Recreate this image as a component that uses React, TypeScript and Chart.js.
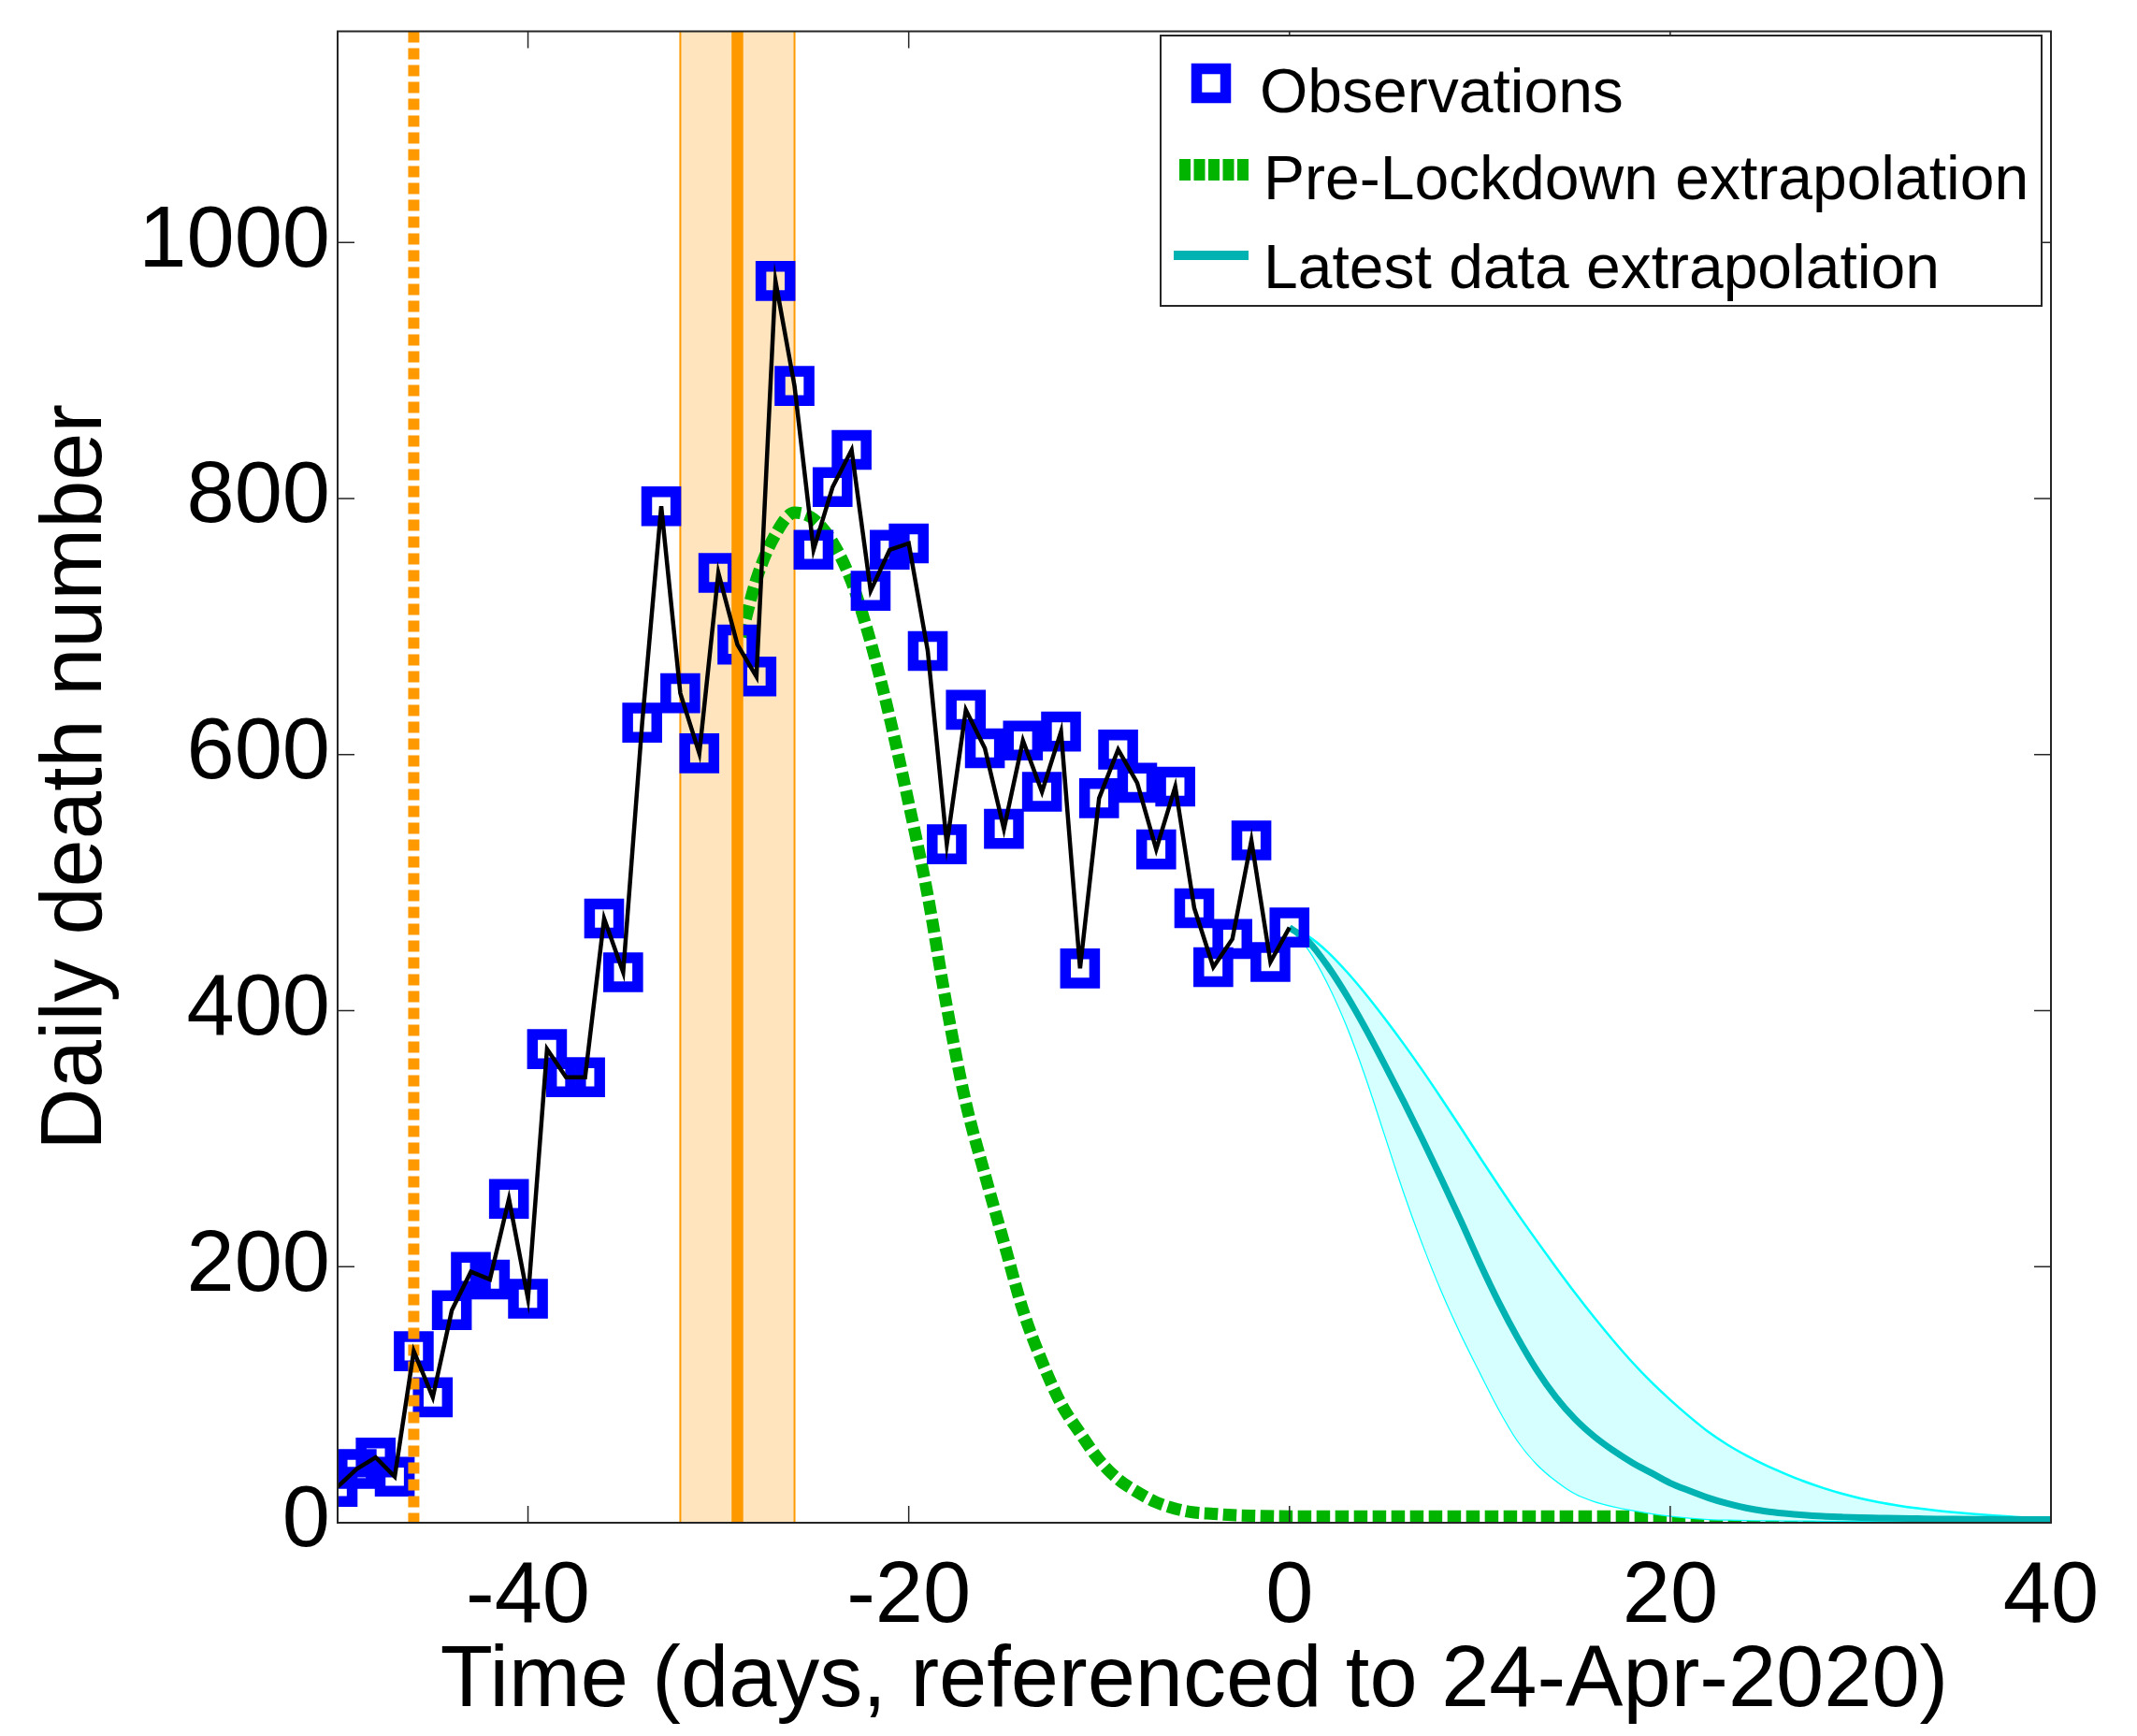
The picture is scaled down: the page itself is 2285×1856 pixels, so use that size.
import React, { useEffect, useRef } from 'react';
import { Chart, registerables } from 'chart.js';

Chart.register(...registerables);

const FONT = '"Liberation Sans", Arial, Helvetica, sans-serif';

// Axis ranges and ticks
const X_MIN = -50;
const X_MAX = 40;
const Y_MIN = 0;
const Y_MAX = 1165;
const X_TICKS = [-40, -20, 0, 20, 40];
const Y_TICKS = [0, 200, 400, 600, 800, 1000];

// Observations (days relative to 24-Apr-2020, daily deaths)
const OBS_DAYS = [
  -50, -49, -48, -47, -46, -45, -44, -43, -42, -41, -40, -39, -38, -37, -36, -35, -34,
  -33, -32, -31, -30, -29, -28, -27, -26, -25, -24, -23, -22, -21, -20, -19, -18, -17,
  -16, -15, -14, -13, -12, -11, -10, -9, -8, -7, -6, -5, -4, -3, -2, -1, 0,
];
const OBS_DEATHS = [
  28, 42, 51, 36, 134, 98, 166, 196, 190, 253, 175, 370, 348, 348, 472, 430, 625,
  794, 648, 601, 742, 686, 661, 970, 888, 760, 809, 838, 728, 760, 765, 681, 530, 635,
  605, 542, 611, 571, 618, 433, 566, 604, 578, 526, 575, 480, 434, 456, 533, 438, 465,
];

// Pre-lockdown extrapolation
const PRE_DAYS = [
  -28.8, -28, -27, -26, -25, -24, -23, -22, -21, -20, -19, -18, -17, -16, -15, -14, -13,
  -12, -11, -10, -9, -8, -7, -6, -5, -4, -3, -2, 0, 5, 10, 15, 20, 25, 31,
];
const PRE_VALUES = [
  692, 737, 772, 789, 784, 766, 735, 688, 629, 562, 490, 403, 328, 272, 219, 166, 126,
  93, 70, 49, 34, 24, 16, 11, 8, 7, 6, 5.5, 5, 5, 5, 5, 5, 5, 5,
];

// Latest data extrapolation (central, upper and lower bounds)
const EXT_DAYS = [
  0, 1, 2, 3, 4, 5, 6, 7, 8, 9, 10, 11, 12, 13, 14, 15, 16, 17, 18, 19, 20,
  21, 22, 23, 24, 25, 26, 27, 28, 29, 30, 31, 32, 33, 34, 35, 36, 37, 38, 39, 40,
];
const EXT_MAIN = [
  465, 454, 435, 412, 386, 358, 329, 299, 268, 236, 203, 172, 144, 119, 98, 81, 67.5, 56.5, 47, 39, 31,
  25, 19.5, 15, 11.5, 9, 7.3, 6, 5.1, 4.5, 4, 3.7, 3.4, 3.2, 3, 2.9, 2.8, 2.7, 2.6, 2.5, 2.5,
];
const EXT_UPPER = [
  465, 458, 446, 430.5, 413, 394, 374, 353, 331, 308.5, 285.5, 263, 241, 220, 199.5, 179.5, 160.5, 142.5, 125.5, 110, 96,
  83, 71, 61, 52.5, 45, 38.5, 32.5, 27.3, 22.8, 19, 15.9, 13.4, 11.3, 9.5, 8, 6.7, 5.6, 4.7, 3.9, 3.3,
];
const EXT_LOWER = [
  465, 448, 422, 389, 349, 304, 259, 218, 181, 148, 118, 89, 64, 46, 33, 23, 17, 13, 10, 7.5, 5.5,
  4, 3, 2.5, 2.2, 2, 1.9, 1.8, 1.7, 1.6, 1.5, 1.5, 1.5, 1.5, 1.5, 1.5, 1.5, 1.5, 1.5, 1.5, 1.5,
];

// Event markers
const FIRST_MARK_DAY = -46;
const LOCKDOWN_DAY = -29;
const LOCKDOWN_START = -32;
const LOCKDOWN_END = -26;

const LEGEND_LABELS = ['Observations', 'Pre-Lockdown extrapolation', 'Latest data extrapolation'];

const BLUE = '#0000ff';
const GREEN = '#00b400';
const TEAL = '#00b2b2';
const CYAN = '#00ffff';
const CYAN_FILL = '#d6ffff';
const ORANGE = '#ff9900';
const PEACH = '#ffe4bd';
const FRAME = '#262626';

const TICK_LEN = 18;

const pts = (xs: number[], ys: number[]) => xs.map((x, i) => ({ x, y: ys[i] }));
const vline = (x: number) => [
  { x, y: Y_MAX },
  { x, y: Y_MIN },
];

const framePlugin = {
  id: 'frame',
  afterDatasetsDraw(chart: any) {
    const { ctx, chartArea: a, scales } = chart;
    const xs = scales.x;
    const ys = scales.y;
    ctx.save();
    ctx.strokeStyle = FRAME;
    ctx.lineWidth = 1.5;
    ctx.beginPath();
    X_TICKS.forEach((v) => {
      const p = xs.getPixelForValue(v);
      ctx.moveTo(p, a.bottom);
      ctx.lineTo(p, a.bottom - TICK_LEN);
      ctx.moveTo(p, a.top);
      ctx.lineTo(p, a.top + TICK_LEN);
    });
    Y_TICKS.forEach((v) => {
      const p = ys.getPixelForValue(v);
      ctx.moveTo(a.left, p);
      ctx.lineTo(a.left + TICK_LEN, p);
      ctx.moveTo(a.right, p);
      ctx.lineTo(a.right - TICK_LEN, p);
    });
    ctx.stroke();
    ctx.lineWidth = 2;
    ctx.strokeRect(a.left, a.top, a.right - a.left, a.bottom - a.top);
    ctx.restore();
  },
};

const legendPlugin = {
  id: 'boxLegend',
  afterDraw(chart: any) {
    const { ctx } = chart;
    const bx = 1241;
    const by = 38;
    const bw = 942;
    const bh = 289;
    ctx.save();
    ctx.fillStyle = '#ffffff';
    ctx.fillRect(bx, by, bw, bh);
    ctx.strokeStyle = FRAME;
    ctx.lineWidth = 2;
    ctx.strokeRect(bx, by, bw, bh);

    // Observations marker
    ctx.strokeStyle = BLUE;
    ctx.lineWidth = 11.5;
    ctx.strokeRect(1295 - 15.5, 89 - 15.5, 31, 31);

    // Pre-lockdown dashes
    ctx.fillStyle = GREEN;
    for (let i = 0; i < 5; i++) {
      ctx.fillRect(1261 + i * 15.5, 170, 12, 23);
    }

    // Latest data line
    ctx.strokeStyle = TEAL;
    ctx.lineWidth = 10;
    ctx.beginPath();
    ctx.moveTo(1255, 273);
    ctx.lineTo(1335, 273);
    ctx.stroke();

    ctx.fillStyle = '#000000';
    ctx.font = `66px ${FONT}`;
    ctx.textAlign = 'left';
    ctx.textBaseline = 'alphabetic';
    ctx.fillText(LEGEND_LABELS[0], 1347, 120);
    ctx.fillText(LEGEND_LABELS[1], 1351, 213);
    ctx.fillText(LEGEND_LABELS[2], 1351, 308);
    ctx.restore();
  },
};

function buildConfig(): any {
  const lineBase = {
    pointRadius: 0,
    pointHoverRadius: 0,
    fill: false,
    clip: 0,
  };
  return {
    type: 'line',
    data: {
      datasets: [
        {
          ...lineBase,
          label: 'obs-line',
          data: pts(OBS_DAYS, OBS_DEATHS),
          borderColor: '#000000',
          borderWidth: 4.5,
          borderJoinStyle: 'miter',
          tension: 0,
          order: 1,
        },
        {
          label: LEGEND_LABELS[0],
          data: pts(OBS_DAYS, OBS_DEATHS),
          showLine: false,
          pointStyle: 'rect',
          pointRadius: 22,
          pointHoverRadius: 22,
          pointBorderWidth: 11.5,
          pointBorderColor: BLUE,
          pointBackgroundColor: 'rgba(0,0,0,0)',
          clip: 0,
          order: 3,
        },
        {
          ...lineBase,
          label: 'first-mark',
          data: vline(FIRST_MARK_DAY),
          borderColor: ORANGE,
          borderWidth: 12,
          borderDash: [12, 6],
          borderCapStyle: 'butt',
          order: 2,
        },
        {
          ...lineBase,
          label: 'lockdown',
          data: vline(LOCKDOWN_DAY),
          borderColor: ORANGE,
          borderWidth: 12.5,
          order: 2,
        },
        {
          ...lineBase,
          label: LEGEND_LABELS[2],
          data: pts(EXT_DAYS, EXT_MAIN),
          borderColor: TEAL,
          borderWidth: 7,
          cubicInterpolationMode: 'monotone',
          order: 4,
        },
        {
          ...lineBase,
          label: 'upper',
          data: pts(EXT_DAYS, EXT_UPPER),
          borderColor: CYAN,
          borderWidth: 2.5,
          cubicInterpolationMode: 'monotone',
          fill: 6,
          backgroundColor: CYAN_FILL,
          order: 5,
        },
        {
          ...lineBase,
          label: 'lower',
          data: pts(EXT_DAYS, EXT_LOWER),
          borderColor: CYAN,
          borderWidth: 2.5,
          cubicInterpolationMode: 'monotone',
          order: 5,
        },
        {
          ...lineBase,
          label: LEGEND_LABELS[1],
          data: pts(PRE_DAYS, PRE_VALUES),
          borderColor: GREEN,
          borderWidth: 13,
          borderDash: [14.5, 5.5],
          borderCapStyle: 'butt',
          cubicInterpolationMode: 'monotone',
          order: 6,
        },
        {
          ...lineBase,
          label: 'band-start',
          data: vline(LOCKDOWN_START),
          borderColor: ORANGE,
          borderWidth: 2,
          order: 8,
        },
        {
          ...lineBase,
          label: 'band-end',
          data: vline(LOCKDOWN_END),
          borderColor: ORANGE,
          borderWidth: 2,
          order: 8,
        },
        {
          ...lineBase,
          label: 'band',
          data: [
            { x: LOCKDOWN_START, y: Y_MAX },
            { x: LOCKDOWN_END, y: Y_MAX },
          ],
          borderWidth: 0,
          borderColor: 'rgba(0,0,0,0)',
          backgroundColor: PEACH,
          fill: 'origin',
          order: 9,
        },
      ],
    },
    options: {
      animation: false,
      responsive: false,
      maintainAspectRatio: false,
      events: [],
      layout: { padding: { left: 0, right: 92, top: 22, bottom: 0 } },
      plugins: {
        legend: { display: false },
        tooltip: { enabled: false },
        title: { display: false },
      },
      scales: {
        x: {
          type: 'linear',
          min: X_MIN,
          max: X_MAX,
          grid: { display: false, drawTicks: false },
          border: { display: false },
          afterBuildTicks: (s: any) => {
            s.ticks = X_TICKS.map((v) => ({ value: v }));
          },
          afterFit: (s: any) => {
            s.height = 228;
            s.paddingLeft = 0;
            s.paddingRight = 0;
            s.paddingTop = 0;
            s.paddingBottom = 0;
          },
          ticks: {
            color: '#000000',
            font: { family: FONT, size: 92 },
            padding: 25,
            maxRotation: 0,
            minRotation: 0,
            autoSkip: false,
            callback: (v: any) => String(v),
          },
          title: {
            display: true,
            text: 'Time (days, referenced to 24-Apr-2020)',
            color: '#000000',
            font: { family: FONT, size: 92 },
            padding: { top: 0, bottom: 2 },
          },
        },
        y: {
          type: 'linear',
          min: Y_MIN,
          max: Y_MAX,
          grid: { display: false, drawTicks: false },
          border: { display: false },
          afterBuildTicks: (s: any) => {
            s.ticks = Y_TICKS.map((v) => ({ value: v }));
          },
          afterFit: (s: any) => {
            s.width = 361;
            s.paddingLeft = 0;
            s.paddingRight = 0;
            s.paddingTop = 0;
            s.paddingBottom = 0;
          },
          ticks: {
            color: '#000000',
            font: { family: FONT, size: 92 },
            padding: 8,
            autoSkip: false,
            callback: (v: any) => String(v),
          },
          title: {
            display: true,
            text: 'Daily death number',
            color: '#000000',
            font: { family: FONT, size: 92 },
            padding: { top: 27, bottom: 0 },
          },
        },
      },
    },
    plugins: [framePlugin, legendPlugin],
  };
}

export default function App() {
  const ref = useRef<HTMLCanvasElement>(null);
  useEffect(() => {
    if (!ref.current) return;
    const chart = new Chart(ref.current, buildConfig());
    return () => chart.destroy();
  }, []);
  return (
    <div style={{ position: 'absolute', left: 0, top: 0, width: 2285, height: 1856, background: '#ffffff' }}>
      <canvas
        ref={ref}
        width={2285}
        height={1856}
        style={{ display: 'block', width: '2285px', height: '1856px' }}
      />
    </div>
  );
}
